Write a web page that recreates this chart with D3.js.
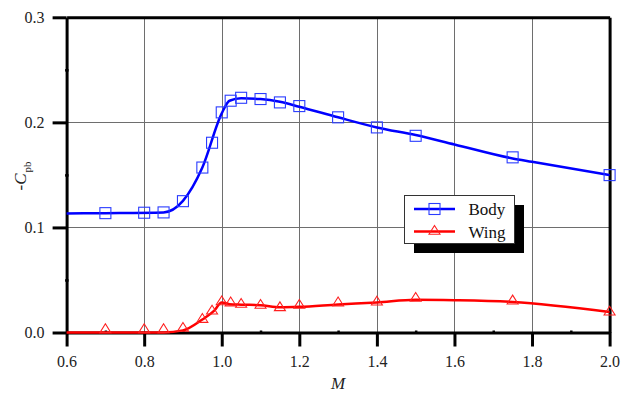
<!DOCTYPE html>
<html>
<head>
<meta charset="utf-8">
<script src="https://cdn.jsdelivr.net/npm/d3@7"></script>
<style>
  body { margin: 0; background: #fff; }
</style>
</head>
<body>
<div id="chart"></div>
<script>
// Measured points (markers)
const bodyM  = [0.7, 0.8, 0.85, 0.9, 0.95, 0.975, 1.0, 1.023, 1.05, 1.1, 1.15, 1.2, 1.3, 1.4, 1.5, 1.75, 2.0];
const bodyCp = [0.1136, 0.1140, 0.1143, 0.1250, 0.1570, 0.1806, 0.2095, 0.2206, 0.2234, 0.2222, 0.2190, 0.2155, 0.2048, 0.1952, 0.1872, 0.1667, 0.1498];
const wingM  = [0.7, 0.8, 0.85, 0.9, 0.95, 0.975, 1.0, 1.023, 1.05, 1.1, 1.15, 1.2, 1.3, 1.4, 1.5, 1.75, 2.0];
const wingCp = [0.0035, 0.0035, 0.0035, 0.0048, 0.0133, 0.0212, 0.0300, 0.0290, 0.0276, 0.0267, 0.0244, 0.0267, 0.0290, 0.0298, 0.0333, 0.0308, 0.0203];

// Fitted curves (lines)
const bodyLineM  = [0.6, 0.7, 0.85, 0.9, 0.95, 1.0, 1.02, 1.05, 1.1, 1.15, 1.2, 1.3, 1.4, 1.5, 1.6, 1.75, 1.8, 2.0];
const bodyLineCp = [0.1133, 0.1136, 0.1143, 0.1253, 0.1570, 0.2086, 0.2206, 0.2229, 0.2222, 0.2196, 0.2149, 0.2048, 0.1952, 0.1879, 0.1790, 0.1657, 0.1625, 0.1498];
const wingLineM  = [0.6, 0.85, 0.9, 0.95, 0.98, 1.0, 1.02, 1.05, 1.1, 1.15, 1.2, 1.3, 1.4, 1.5, 1.6, 1.75, 2.0];
const wingLineCp = [0, 0, 0.002, 0.0124, 0.0205, 0.0286, 0.0270, 0.0265, 0.0260, 0.0240, 0.0244, 0.0267, 0.0286, 0.0312, 0.0308, 0.0291, 0.0196];

const xMajor = [0.6, 0.8, 1.0, 1.2, 1.4, 1.6, 1.8, 2.0];
const xMinor = [0.7, 0.9, 1.1, 1.3, 1.5, 1.7, 1.9];
const yMajor = [0.0, 0.1, 0.2, 0.3];
const yMinor = [0.05, 0.15, 0.25];

const W = 630, H = 394;
const serif = "'Times New Roman', serif";
const x = d3.scaleLinear().domain([0.6, 2.0]).range([66.6, 609.6]);
const y = d3.scaleLinear().domain([0, 0.3]).range([332.5, 17.3]);

const svg = d3.select("#chart").append("svg")
    .attr("width", W).attr("height", H);
svg.append("rect").attr("width", W).attr("height", H).attr("fill", "#fff");

// grid
const grid = svg.append("g").attr("stroke", "#6e6e6e").attr("stroke-width", 1);
grid.selectAll("line.gx")
    .data(xMajor.slice(1, -1))
    .enter().append("line")
    .attr("x1", d => Math.round(x(d)) + 0.5).attr("x2", d => Math.round(x(d)) + 0.5)
    .attr("y1", y(0)).attr("y2", y(0.3));
grid.selectAll("line.gy")
    .data(yMajor.slice(1, -1))
    .enter().append("line")
    .attr("x1", x(0.6)).attr("x2", x(2.0))
    .attr("y1", d => Math.round(y(d)) + 0.5).attr("y2", d => Math.round(y(d)) + 0.5);

// axes
function styleAxis(g, w) {
    g.attr("font-family", null);
    g.select(".domain").attr("stroke", "#000").attr("stroke-width", w);
    g.selectAll(".tick line").attr("stroke", "#000").attr("stroke-width", w);
    g.selectAll(".tick text")
        .style("font-family", serif)
        .attr("font-size", 16).attr("fill", "#222");
}

const xAxis = svg.append("g")
    .attr("transform", `translate(0,${y(0)})`)
    .call(d3.axisBottom(x).tickValues(xMajor).tickFormat(d3.format(".1f"))
        .tickSize(14).tickSizeOuter(0).tickPadding(9));
styleAxis(xAxis, 3);

const yAxis = svg.append("g")
    .attr("transform", `translate(${x(0.6)},0)`)
    .call(d3.axisLeft(y).tickValues(yMajor).tickFormat(d3.format(".1f"))
        .tickSize(14).tickSizeOuter(0).tickPadding(8));
styleAxis(yAxis, 3);

// minor ticks
const xMinorAxis = svg.append("g")
    .attr("transform", `translate(0,${y(0)})`)
    .call(d3.axisBottom(x).tickValues(xMinor).tickFormat("").tickSize(-3).tickSizeOuter(0));
xMinorAxis.select(".domain").remove();
xMinorAxis.selectAll(".tick line").attr("stroke", "#000").attr("stroke-width", 2.5)
    .attr("y1", 1.5).attr("y2", -2);

const yMinorAxis = svg.append("g")
    .attr("transform", `translate(${x(0.6)},0)`)
    .call(d3.axisLeft(y).tickValues(yMinor).tickFormat("").tickSize(-3).tickSizeOuter(0));
yMinorAxis.select(".domain").remove();
yMinorAxis.selectAll(".tick line").attr("stroke", "#000").attr("stroke-width", 2.5)
    .attr("x1", -1.5).attr("x2", 2);

// frame: top and right
const topAxis = svg.append("g")
    .attr("transform", `translate(0,${y(0.3)})`)
    .call(d3.axisTop(x).tickValues([]).tickSizeOuter(0));
styleAxis(topAxis, 3);
const rightAxis = svg.append("g")
    .attr("transform", `translate(${x(2.0)},0)`)
    .call(d3.axisRight(y).tickValues([]).tickSizeOuter(0));
styleAxis(rightAxis, 3);

// lines (drawn over the axes like the original)
const line = d3.line().curve(d3.curveMonotoneX).x(d => x(d[0])).y(d => y(d[1]));
svg.append("path")
    .datum(bodyLineM.map((m, i) => [m, bodyLineCp[i]]))
    .attr("d", line).attr("fill", "none").attr("stroke", "#0000ff").attr("stroke-width", 2.5);
svg.append("path")
    .datum(wingLineM.map((m, i) => [m, wingLineCp[i]]))
    .attr("d", line).attr("fill", "none").attr("stroke", "#ff0000").attr("stroke-width", 2.5);

// markers
const sq = 11;
svg.selectAll("rect.body")
    .data(bodyM.map((m, i) => [m, bodyCp[i]]))
    .enter().append("rect")
    .attr("x", d => x(d[0]) - sq / 2).attr("y", d => y(d[1]) - sq / 2)
    .attr("width", sq).attr("height", sq)
    .attr("fill", "none").attr("stroke", "#2a3cff").attr("stroke-width", 1.1);

const tri = "M0,-5L5.5,3.8L-5.5,3.8Z";
svg.selectAll("path.wing")
    .data(wingM.map((m, i) => [m, wingCp[i]]))
    .enter().append("path")
    .attr("d", tri)
    .attr("transform", d => `translate(${x(d[0])},${y(d[1])})`)
    .attr("fill", "none").attr("stroke", "#ff2020").attr("stroke-width", 1.1);

// axis titles
svg.append("text")
    .attr("x", x(1.3)).attr("y", 389)
    .attr("text-anchor", "middle")
    .style("font-family", serif)
    .attr("font-size", 17).attr("font-style", "italic").attr("fill", "#222")
    .text("M");

const yt = svg.append("text")
    .attr("transform", "translate(26,176) rotate(-90)")
    .attr("text-anchor", "middle")
    .style("font-family", serif)
    .attr("font-size", 17).attr("fill", "#222");
yt.append("tspan").text("-");
yt.append("tspan").attr("font-style", "italic").text("C");
yt.append("tspan").attr("font-size", 11).attr("dy", 5).attr("dx", 1).text("pb");

// legend
const legend = svg.append("g").attr("transform", "translate(404.5,195.5)");
legend.append("rect")
    .attr("x", 9.5).attr("y", 9.5).attr("width", 110).attr("height", 48)
    .attr("fill", "#000");
legend.append("rect")
    .attr("width", 110).attr("height", 48)
    .attr("fill", "#fff").attr("stroke", "#333").attr("stroke-width", 1);

const legendData = [
    { label: "Body", color: "#0000ff", mark: "sq" },
    { label: "Wing", color: "#ff0000", mark: "tri" }
];
const li = legend.selectAll("g.item")
    .data(legendData)
    .enter().append("g")
    .attr("transform", (d, i) => `translate(0,${13.5 + i * 22.5})`);
li.append("line")
    .attr("x1", 9.5).attr("x2", 50.5)
    .attr("stroke", d => d.color).attr("stroke-width", 2.5);
li.filter(d => d.mark === "sq").append("rect")
    .attr("x", 30 - sq / 2).attr("y", -sq / 2).attr("width", sq).attr("height", sq)
    .attr("fill", "none").attr("stroke", "#2a3cff").attr("stroke-width", 1.1);
li.filter(d => d.mark === "tri").append("path")
    .attr("d", tri).attr("transform", "translate(30,-1)")
    .attr("fill", "none").attr("stroke", "#ff2020").attr("stroke-width", 1.1);
li.append("text")
    .attr("x", 64).attr("y", 6)
    .style("font-family", serif)
    .attr("font-size", 17).attr("fill", "#111")
    .text(d => d.label);
</script>
</body>
</html>
